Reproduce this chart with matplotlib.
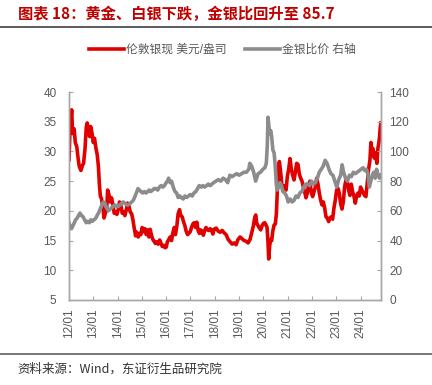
import numpy as np
import matplotlib
matplotlib.use("Agg")
import matplotlib.pyplot as plt
from matplotlib.lines import Line2D

plt.rcParams['font.family'] = ['Liberation Sans', 'Noto Sans CJK SC', 'DejaVu Sans']

# ---------------------------------------------------------------
# data (decimal years)
silver_t = [2012.00, 2012.04, 2012.08, 2012.11, 2012.15, 2012.21, 2012.26, 2012.32, 2012.37, 2012.42,
            2012.49, 2012.55, 2012.60, 2012.66, 2012.71, 2012.75, 2012.81, 2012.85, 2012.89, 2012.95,
            2013.00, 2013.05, 2013.11, 2013.16, 2013.21, 2013.25, 2013.29, 2013.34, 2013.40, 2013.44,
            2013.49, 2013.55, 2013.59, 2013.64, 2013.70, 2013.75, 2013.81, 2013.86, 2013.92, 2013.97,
            2014.03, 2014.08, 2014.14, 2014.19, 2014.25, 2014.30, 2014.36, 2014.41, 2014.47, 2014.52,
            2014.58, 2014.63, 2014.68, 2014.74, 2014.79, 2014.85, 2014.90, 2014.96, 2015.01, 2015.07,
            2015.12, 2015.18, 2015.23, 2015.29, 2015.34, 2015.40, 2015.45, 2015.51, 2015.56, 2015.62,
            2015.67, 2015.73, 2015.78, 2015.84, 2015.89, 2015.95, 2016.00, 2016.05, 2016.11, 2016.16,
            2016.22, 2016.27, 2016.33, 2016.38, 2016.44, 2016.49, 2016.55, 2016.60, 2016.66, 2016.71,
            2016.77, 2016.82, 2016.88, 2016.93, 2016.99, 2017.04, 2017.10, 2017.15, 2017.21, 2017.26,
            2017.32, 2017.37, 2017.42, 2017.48, 2017.53, 2017.59, 2017.64, 2017.70, 2017.75, 2017.81,
            2017.86, 2017.92, 2017.97, 2018.055, 2018.137, 2018.219, 2018.301, 2018.384, 2018.466, 2018.548,
            2018.630, 2018.712, 2018.795, 2018.877, 2018.959, 2019.041, 2019.123, 2019.205, 2019.288, 2019.370,
            2019.452, 2019.534, 2019.589, 2019.644, 2019.685, 2019.726, 2019.781, 2019.836, 2019.890, 2019.945,
            2020.000, 2020.055, 2020.110, 2020.151, 2020.192, 2020.219, 2020.260, 2020.301, 2020.342, 2020.384,
            2020.438, 2020.493, 2020.534, 2020.575, 2020.616, 2020.658, 2020.712, 2020.767, 2020.822, 2020.877,
            2020.932, 2020.986, 2021.041, 2021.096, 2021.151, 2021.205, 2021.260, 2021.315, 2021.370, 2021.425,
            2021.479, 2021.534, 2021.589, 2021.644, 2021.699, 2021.753, 2021.808, 2021.863, 2021.918, 2021.973,
            2022.027, 2022.082, 2022.137, 2022.192, 2022.247, 2022.301, 2022.356, 2022.411, 2022.466, 2022.521,
            2022.575, 2022.630, 2022.685, 2022.740, 2022.795, 2022.849, 2022.904, 2022.959, 2023.014, 2023.068,
            2023.123, 2023.178, 2023.233, 2023.288, 2023.342, 2023.397, 2023.452, 2023.507, 2023.562, 2023.616,
            2023.671, 2023.726, 2023.781, 2023.836, 2023.890, 2023.945, 2024.000, 2024.055, 2024.110, 2024.164,
            2024.219, 2024.274, 2024.329, 2024.384, 2024.425, 2024.466, 2024.507, 2024.548, 2024.589, 2024.630,
            2024.671, 2024.712, 2024.753, 2024.781, 2024.808, 2024.836]
silver_v = [28.6, 33.5, 35.5, 37.0, 33.0, 33.8, 31.5, 30.8, 29.0, 27.5,
            26.8, 27.6, 28.0, 30.5, 34.0, 34.8, 33.2, 32.5, 34.2, 33.0,
            31.5, 32.2, 30.5, 29.5, 27.5, 24.5, 22.5, 22.0, 20.5, 18.8,
            19.5, 20.2, 23.5, 22.8, 21.5, 22.2, 21.0, 19.6, 19.8, 19.4,
            20.3, 21.5, 20.8, 19.6, 19.8, 19.2, 20.2, 21.3, 20.8, 19.8,
            19.5, 18.5, 17.2, 15.8, 16.4, 15.6, 16.2, 16.0, 17.2, 16.5,
            17.0, 16.0, 16.8, 15.6, 16.9, 15.8, 15.2, 14.8, 14.5, 14.8,
            14.4, 15.1, 14.6, 14.0, 14.2, 13.8, 13.9, 14.8, 15.2, 15.6,
            15.0, 16.2, 17.2, 16.0, 17.5, 19.5, 20.2, 19.2, 19.0, 18.2,
            17.5, 16.6, 16.0, 16.2, 16.5, 17.2, 17.8, 18.0, 17.2, 18.1,
            16.6, 16.2, 16.8, 16.5, 15.9, 16.8, 17.2, 16.8, 16.7, 17.0,
            16.8, 16.1, 16.9, 17.1, 16.6, 16.4, 16.7, 16.3, 16.0, 15.2,
            14.8, 14.4, 14.6, 14.3, 15.2, 15.6, 15.3, 15.0, 14.9, 14.6,
            15.2, 16.6, 17.5, 18.9, 19.3, 17.9, 17.5, 17.1, 16.8, 17.5,
            17.9, 18.0, 17.6, 17.2, 14.5, 11.9, 14.2, 15.2, 15.0, 16.5,
            17.6, 17.8, 19.5, 23.5, 27.0, 28.3, 26.5, 24.0, 23.8, 24.2,
            23.5, 25.8, 27.0, 28.8, 27.0, 26.0, 25.2, 26.5, 28.0, 27.8,
            26.2, 25.5, 25.0, 24.0, 23.2, 22.2, 23.0, 24.5, 25.0, 23.0,
            22.4, 23.2, 24.0, 25.5, 24.5, 23.0, 21.8, 21.0, 21.5, 20.5,
            19.0, 18.8, 18.2, 18.8, 19.0, 18.6, 20.5, 21.8, 23.5, 23.8,
            23.0, 21.2, 20.3, 21.5, 24.0, 25.2, 25.0, 23.5, 22.6, 24.5,
            23.2, 22.5, 21.3, 22.5, 23.0, 22.5, 24.0, 23.5, 23.0, 22.6,
            22.4, 24.8, 27.0, 28.5, 31.5, 30.0, 30.5, 29.0, 28.8, 29.8,
            28.0, 30.5, 31.5, 32.5, 34.0, 34.8]

ratio_t = [2012.00, 2012.05, 2012.10, 2012.16, 2012.22, 2012.27, 2012.33, 2012.40, 2012.45, 2012.51,
           2012.58, 2012.64, 2012.71, 2012.77, 2012.84, 2012.90, 2012.96, 2013.03, 2013.10, 2013.16,
           2013.23, 2013.30, 2013.36, 2013.42, 2013.48, 2013.55, 2013.62, 2013.68, 2013.75, 2013.82,
           2013.89, 2013.96, 2014.03, 2014.10, 2014.16, 2014.23, 2014.30, 2014.37, 2014.44, 2014.51,
           2014.58, 2014.64, 2014.70, 2014.77, 2014.84, 2014.90, 2014.96, 2015.03, 2015.10, 2015.17,
           2015.24, 2015.30, 2015.37, 2015.44, 2015.51, 2015.58, 2015.65, 2015.72, 2015.79, 2015.86,
           2015.93, 2016.00, 2016.05, 2016.10, 2016.16, 2016.22, 2016.29, 2016.36, 2016.43, 2016.49,
           2016.56, 2016.62, 2016.70, 2016.77, 2016.84, 2016.92, 2016.99, 2017.07, 2017.14, 2017.22,
           2017.29, 2017.36, 2017.44, 2017.51, 2017.58, 2017.66, 2017.73, 2017.81, 2017.88, 2017.95,
           2018.05, 2018.14, 2018.25, 2018.34, 2018.44, 2018.53, 2018.62, 2018.71, 2018.80, 2018.90,
           2019.00, 2019.10, 2019.20, 2019.30, 2019.40, 2019.44, 2019.52, 2019.60, 2019.68, 2019.78,
           2019.88, 2019.98, 2020.06, 2020.12, 2020.16, 2020.19, 2020.22, 2020.26, 2020.30, 2020.34,
           2020.39, 2020.44, 2020.49, 2020.53, 2020.57, 2020.62, 2020.68, 2020.74, 2020.80, 2020.88,
           2020.95, 2021.02, 2021.10, 2021.18, 2021.26, 2021.34, 2021.42, 2021.50, 2021.58, 2021.66,
           2021.74, 2021.82, 2021.90, 2021.98, 2022.06, 2022.14, 2022.22, 2022.30, 2022.38, 2022.46,
           2022.54, 2022.62, 2022.70, 2022.78, 2022.86, 2022.94, 2023.02, 2023.10, 2023.18, 2023.24,
           2023.30, 2023.38, 2023.46, 2023.54, 2023.62, 2023.70, 2023.78, 2023.86, 2023.94, 2024.02,
           2024.10, 2024.18, 2024.24, 2024.30, 2024.36, 2024.42, 2024.48, 2024.54, 2024.60, 2024.66,
           2024.72, 2024.78, 2024.836]
ratio_v = [52, 49, 48, 50, 52, 54, 55, 57, 58.5, 57,
           56, 54, 52, 53, 52, 54, 53, 54, 55, 57,
           59, 62, 64, 66, 65, 62, 60, 61, 62, 63,
           64, 63, 63, 64, 65, 66, 65, 64, 64, 65,
           66, 67, 69, 72, 75, 74, 73, 72, 73, 72,
           73, 74, 73, 74, 75, 75, 74, 76, 77, 76,
           77, 79, 80, 82, 79, 80, 76, 73, 72, 69,
           70, 69, 68, 70, 69, 70, 71, 70, 72, 73,
           75, 77, 76, 77, 76, 77, 78, 77, 78, 79,
           80, 81, 80, 82, 81, 79, 84, 83, 84, 85,
           84, 85, 86, 86, 88, 92, 90, 86, 80, 85,
           86, 88, 89, 92, 104, 123, 118, 112, 114, 110,
           101, 99, 90, 78, 74, 76, 79, 77, 73, 72,
           70, 66, 68, 66, 67, 70, 69, 72, 73, 76,
           78, 78, 77, 80, 78, 79, 82, 86, 88, 90,
           94, 92, 88, 85, 84, 80, 76, 81, 84, 91,
           86, 82, 80, 84, 83, 86, 85, 86, 87, 88,
           89, 87, 88, 85, 76, 80, 84, 86, 82, 88,
           84, 82, 84]

year_ticks = list(range(2012, 2025))
year_labels = ['%02d/01' % (y % 100) for y in year_ticks]

red = '#E00000'
grey = '#8C8C8C'
txt = '#595959'
spine_c = '#A6A6A6'

# ---------------------------------------------------------------
fig = plt.figure(figsize=(4.32, 3.85), dpi=100)
ax = fig.add_axes([69/432, 1-300/385, (381-69)/432, (300-92)/385])
ax2 = ax.twinx()

ax.plot(silver_t, silver_v, color=red, lw=2.6, solid_joinstyle='round')
ax2.plot(ratio_t, ratio_v, color=grey, lw=2.6, solid_joinstyle='round')

ax.set_xlim(2012.0, 2024.84)
ax.set_ylim(5, 40)
ax.set_yticks(range(5, 41, 5))
ax2.set_ylim(0, 140)
ax2.set_yticks(range(0, 141, 20))
ax.set_xticks(year_ticks)
ax.set_xticklabels(year_labels, rotation=90)

for a in (ax, ax2):
  for s in a.spines.values():
    s.set_color(spine_c)
    s.set_linewidth(1.0)
  a.spines['top'].set_visible(False)
  a.tick_params(axis='both', direction='in', length=3, width=0.8, color=spine_c,
                labelcolor=txt, labelsize=8.5)
ax.tick_params(axis='y', pad=9)
ax2.tick_params(axis='y', pad=6)
ax.tick_params(axis='x', pad=6)

# legend
handles = [Line2D([], [], color=red, lw=2.6), Line2D([], [], color=grey, lw=2.6)]
fig.legend(handles, ['伦敦银现 美元/盎司', '金银比价 右轴'], loc='center', bbox_to_anchor=(0.515, 1-50/385),
           ncol=2, frameon=False, fontsize=8.5, handlelength=2.9, handletextpad=0.2, columnspacing=1.6,
           labelcolor=txt)

# title, rules, source
fig.text(18/432, 1-14/385, '图表 18：黄金、白银下跌，金银比回升至 85.7', color='#C00000', fontsize=11,
         fontweight='bold', va='center', ha='left', family=['Noto Sans CJK SC'])
fig.add_artist(Line2D([0, 1], [1-27/385, 1-27/385], color='#404040', lw=1.2))
fig.add_artist(Line2D([0, 1], [1-354/385, 1-354/385], color='#606060', lw=1.2))
fig.text(17/432, 1-369/385, '资料来源：Wind，东证衍生品研究院', color='#333333', fontsize=9,
         va='center', ha='left', family=['Noto Sans CJK SC'])

fig.savefig('out.png', dpi=100)
